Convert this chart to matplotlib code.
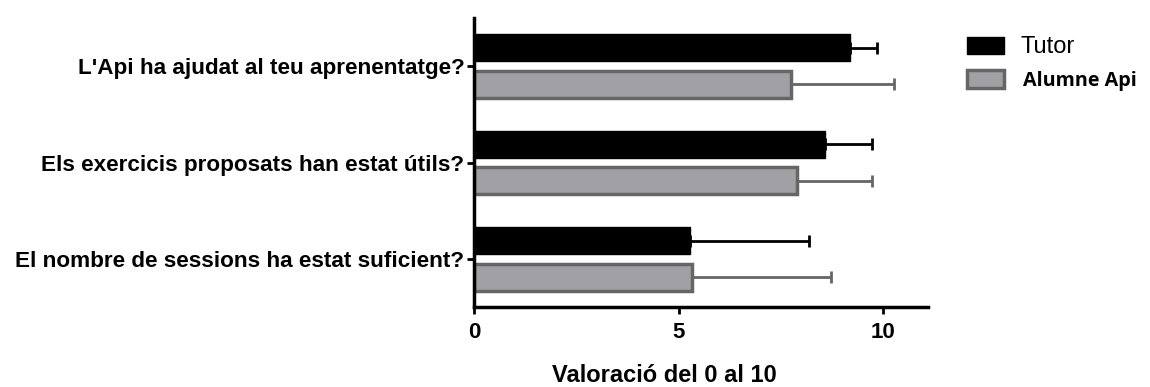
import matplotlib.pyplot as plt
import numpy as np

questions = [
    "L'Api ha ajudat al teu aprenentatge?",
    "Els exercicis proposats han estat útils?",
    "El nombre de sessions ha estat suficient?",
]
tutor_mean = [9.2, 8.58, 5.27]
tutor_err = [0.65, 1.15, 2.93]
alumne_mean = [7.75, 7.9, 5.32]
alumne_err = [2.51, 1.83, 3.4]
x_ticks = [0, 5, 10]

plt.rcParams["font.family"] = ["Liberation Sans", "DejaVu Sans"]

fig = plt.figure(figsize=(11.5, 3.87), dpi=100)
ax = fig.add_axes([474 / 1150, 1 - 307 / 387, (928 - 474) / 1150, (307 - 18) / 387])

# questions listed top to bottom
pos = np.arange(len(questions))[::-1]
h = 0.28
off = 0.19

ax.barh(pos + off, tutor_mean, height=h, color="black", edgecolor="black",
        linewidth=1, label="Tutor")
ax.errorbar(tutor_mean, pos + off, xerr=[np.zeros(3), tutor_err], fmt="none",
            ecolor="black", elinewidth=2, capsize=4, capthick=2)

ax.barh(pos - off, alumne_mean, height=h, color="#a1a1a5", edgecolor="#666666",
        linewidth=2.5, label="Alumne Api")
ax.errorbar(alumne_mean, pos - off, xerr=[np.zeros(3), alumne_err], fmt="none",
            ecolor="#666666", elinewidth=2, capsize=4, capthick=2)

ax.set_xlim(0, 11.1)
ax.set_ylim(-0.5, 2.5)
ax.set_xticks(x_ticks)
ax.set_xticklabels([str(t) for t in x_ticks], fontsize=16, fontweight="bold")
ax.set_yticks(pos)
ax.set_yticklabels(questions, fontsize=16.2, fontweight="bold")
ax.tick_params(axis="both", width=2, length=5, direction="out")
ax.tick_params(axis="x", pad=6)
ax.tick_params(axis="y", pad=2)
ax.set_xlabel("Valoració del 0 al 10", fontsize=17, fontweight="bold")
ax.xaxis.set_label_coords((664 - 474) / (928 - 474), -(375 - 307) / (307 - 18))
ax.xaxis.label.set_va("center")

for side in ("top", "right"):
    ax.spines[side].set_visible(False)
for side in ("left", "bottom"):
    ax.spines[side].set_linewidth(2.5)

leg = fig.legend(loc="upper left", bbox_to_anchor=(967 / 1150, 1 - 36 / 387),
                 frameon=False, borderpad=0, borderaxespad=0,
                 handlelength=1.78, handleheight=0.9, handletextpad=0.77,
                 labelspacing=0.6, fontsize=15)
tutor_text, api_text = leg.get_texts()
tutor_text.set_fontsize(17)
api_text.set_fontsize(14.2)
api_text.set_fontweight("bold")
api_text.set_family(["Open Sans", "DejaVu Sans"])
api_text.set_position((3, 0))

fig.savefig("out.png", dpi=100)
